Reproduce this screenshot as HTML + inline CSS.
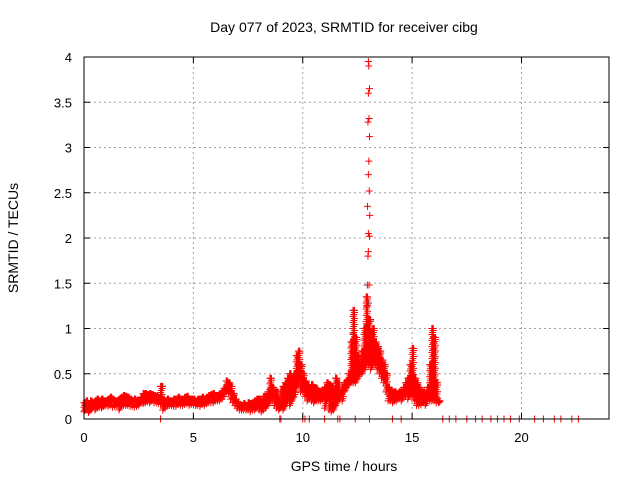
<!DOCTYPE html>
<html><head><meta charset="utf-8"><style>
body{margin:0;background:#fff;}
svg{display:block;font-family:"Liberation Sans",sans-serif;}
</style></head><body>
<svg id="chart" width="640" height="480" viewBox="0 0 640 480">
<rect width="640" height="480" fill="#fff"/>
<text x="344" y="32" font-size="14" text-anchor="middle">Day 077 of 2023, SRMTID for receiver cibg</text>
<text x="344" y="471" font-size="14" text-anchor="middle">GPS time / hours</text>
<text transform="translate(18,238) rotate(-90)" font-size="14" text-anchor="middle">SRMTID / TECUs</text>
<g id="grid"></g><g id="marks"></g><g id="axes"></g>
</svg>
<script>
const xTicks=[0,5,10,15,20];
const yTicks=[0,0.5,1,1.5,2,2.5,3,3.5,4];
const yTickLabels=["0","0.5","1","1.5","2","2.5","3","3.5","4"];
const startHour=0, stepHour=0.1;
const hiVals=[.18,.2,.17,.2,.18,.2,.22,.2,.22,.2,
.2,.22,.24,.22,.2,.2,.22,.24,.26,.25,
.24,.22,.2,.22,.2,.2,.24,.28,.28,.27,
.28,.27,.26,.25,.24,.36,.22,.2,.22,.2,
.2,.22,.22,.24,.22,.22,.24,.25,.22,.22,
.22,.2,.22,.22,.24,.22,.24,.26,.27,.28,
.26,.26,.28,.3,.34,.42,.4,.36,.28,.22,
.18,.16,.15,.17,.15,.18,.17,.18,.2,.22,
.22,.2,.25,.25,.3,.45,.35,.3,.3,.2,
.32,.36,.4,.45,.5,.45,.5,.7,.75,.6,
.5,.42,.38,.35,.38,.35,.34,.3,.3,.32,
.35,.4,.38,.36,.3,.45,.4,.3,.35,.4,
.42,.5,.85,1.2,.9,.7,.6,.75,1.0,1.35,
1.1,.95,1.0,.85,.8,.75,.65,.6,.5,.35,
.32,.3,.3,.28,.3,.3,.35,.4,.45,.6,
.78,.45,.4,.35,.3,.3,.28,.35,.6,1.0,
.9,.4,.2];
const loVals=[.08,.1,.07,.1,.12,.1,.12,.13,.12,.14,
.15,.14,.15,.13,.14,.15,.1,.14,.15,.15,
.15,.14,.14,.13,.14,.15,.18,.17,.18,.19,
.18,.2,.18,.18,.17,.16,.1,.12,.14,.15,
.15,.14,.14,.16,.15,.15,.16,.17,.15,.16,
.16,.15,.15,.14,.16,.15,.17,.18,.18,.18,
.2,.2,.2,.22,.25,.3,.28,.22,.18,.15,
.12,.1,.1,.1,.1,.1,.08,.1,.1,.12,
.1,.08,.1,.12,.15,.2,.2,.15,.12,.1,
.12,.1,.15,.2,.15,.2,.25,.35,.4,.3,
.3,.25,.2,.22,.2,.18,.2,.2,.2,.22,
.12,.2,.1,.08,.1,.15,.2,.22,.2,.3,
.35,.38,.4,.4,.4,.45,.5,.5,.55,.6,
.6,.55,.6,.6,.55,.5,.45,.4,.3,.2,
.2,.18,.2,.2,.22,.2,.25,.25,.22,.25,
.25,.2,.15,.15,.16,.18,.15,.2,.2,.2,
.2,.18,.18];
const spikeTimes=[13.0,13.02,13.05,13.0,13.03,12.98,13.05,13.02,13.0,13.04,12.96,13.06,13.0,13.05,13.0,12.98,13.03,12.92,13.1];
const spikeVals=[3.95,3.9,3.65,3.6,3.32,3.28,3.12,2.85,2.7,2.52,2.35,2.25,2.05,2.02,1.85,1.8,1.48,1.25,1.1];
const darkTimes=[3.6,12.95,13.0,12.9,13.1,9.8,12.3];
const darkVals=[0.36,1.48,1.28,1.05,1.08,0.6,0.95];
const zeroTimes=[3.5,8.95,9.0,10.0,10.1,10.3,11.0,11.6,11.7,12.4,13.05,14.1,14.5,16.4,16.7,17.0,17.5,17.9,18.2,18.6,18.9,19.2,19.5,19.9,20.6,21.0,21.5,21.8,22.3,22.6];
const X0=84,X1=609,Y0=419,Y1=57,XMAX=24,YMAX=4;
const xs=h=>X0+(h/XMAX)*(X1-X0);
const ys=v=>Y0-(v/YMAX)*(Y0-Y1);
const NS="http://www.w3.org/2000/svg";
const grid=document.getElementById('grid'),marks=document.getElementById('marks'),axes=document.getElementById('axes');
function ln(p,x1,y1,x2,y2,st,dash){const l=document.createElementNS(NS,'line');l.setAttribute('x1',x1);l.setAttribute('y1',y1);l.setAttribute('x2',x2);l.setAttribute('y2',y2);l.setAttribute('stroke',st);if(dash)l.setAttribute('stroke-dasharray',dash);p.appendChild(l);return l;}
function txt(x,y,s,anchor){const t=document.createElementNS(NS,'text');t.setAttribute('x',x);t.setAttribute('y',y);t.setAttribute('font-size','13');t.setAttribute('text-anchor',anchor);t.textContent=s;axes.appendChild(t);return t;}
xTicks.forEach(h=>{const x=xs(h);
 if(h>0){const g=ln(grid,x,Y0,x,Y1,'#a0a0a0','2,3');}
 ln(axes,x,Y0,x,Y0-6,'#000');ln(axes,x,Y1,x,Y1+6,'#000');
 const t=txt(x,442,String(h),'middle');
 
 });
yTicks.forEach((v,i)=>{const y=ys(v);
 if(v>0&&v<YMAX){const g=ln(grid,X0,y,X1,y,'#a0a0a0','2,3');}
 ln(axes,X0,y,X0+6,y,'#000');ln(axes,X1,y,X1-6,y,'#000');
 const t=txt(72,y+5,yTickLabels[i],'end');
 
 });
const frame=document.createElementNS(NS,'rect');
frame.setAttribute('x',X0);frame.setAttribute('y',Y1);frame.setAttribute('width',X1-X0);frame.setAttribute('height',Y0-Y1);
frame.setAttribute('fill','none');frame.setAttribute('stroke','#000');


axes.appendChild(frame);
function cross(h,v,col,name){const x=xs(h),y=ys(v);const p=document.createElementNS(NS,'path');
 p.setAttribute('d',`M${x-3.5},${y}H${x+3.5}M${x},${y-3.5}V${y+3.5}`);p.setAttribute('stroke',col);p.setAttribute('fill','none');
 
 
 marks.appendChild(p);}
darkVals.forEach((v,i)=>cross(darkTimes[i],v,'#404040','dark-point'));
hiVals.forEach((hi,i)=>{const t=startHour+i*stepHour,lo=loVals[i];
 for(let k=0;k<3;k++){const tk=t+k*0.033;
  const span=ys(lo)-ys(hi);const n=Math.max(1,Math.round(span/6));
  for(let j=0;j<=n;j++){const v=lo+(hi-lo)*((j+k*0.33)%(n+1))/n;cross(tk,Math.min(v,hi),'#ff0000','srmtid-point');}
 }});
spikeVals.forEach((v,i)=>cross(spikeTimes[i],v,'#ff0000','spike-point'));
zeroTimes.forEach(t=>cross(t,0,'#ff0000','zero-point'));
</script>
</body></html>
